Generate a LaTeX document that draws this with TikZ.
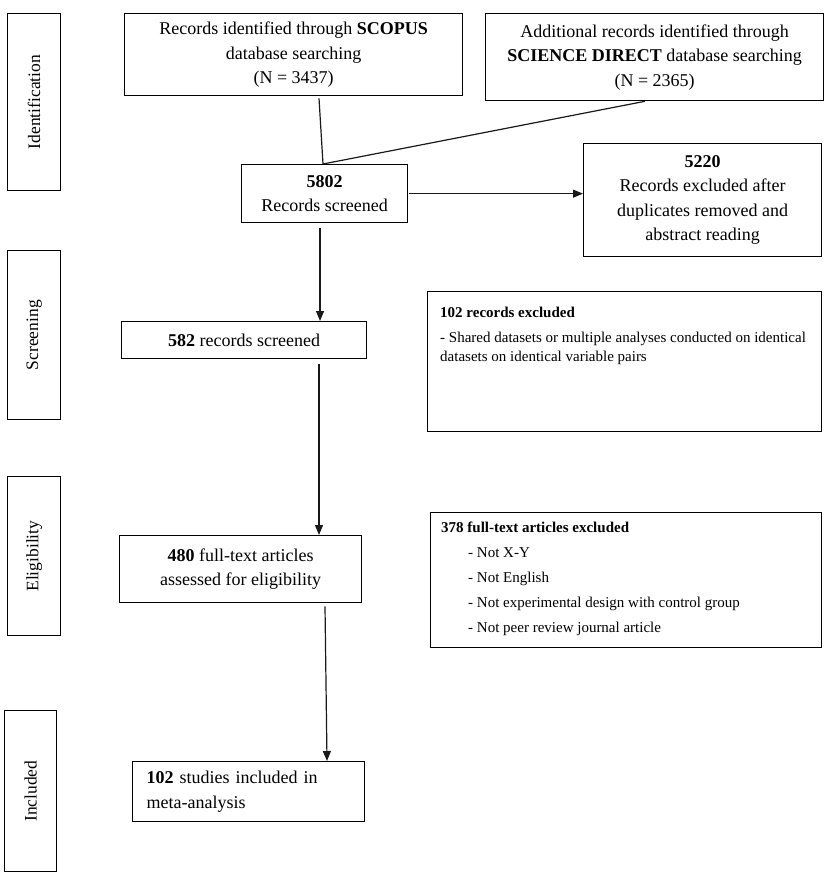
\documentclass[tikz,border=0pt]{standalone}
\usepackage{fontspec}
\setmainfont{Liberation Serif}
\usetikzlibrary{arrows.meta,calc}
\begin{document}
\begin{tikzpicture}[x=1pt,y=-1pt,
  box/.style={draw=black,line width=1.3pt,inner sep=0pt,anchor=north west,align=center,font=\fontsize{18}{24.5}\selectfont},
  side/.style={rotate=90,inner sep=0pt,font=\fontsize{17.5}{21}\selectfont},
  small/.style={inner sep=0pt,anchor=north west,align=left,font=\fontsize{15}{18.5}\selectfont},
  conn/.style={line width=1.2pt,draw=black!90},
  arr/.style={conn,-{Triangle[length=10pt,width=8pt]}}]
\useasboundingbox (0,0) rectangle (829,877);
% phase boxes
\node[box,minimum width=53pt,minimum height=177pt] (idbox) at (7,13) {};
\node[box,minimum width=53pt,minimum height=169pt] (scbox) at (7,250) {};
\node[box,minimum width=53pt,minimum height=159pt] (elbox) at (7,476) {};
\node[box,minimum width=52pt,minimum height=161pt] (inbox) at (4,710) {};
\node[side] (idlab) at (idbox.center) {Identification};
\node[side] (sclab) at (scbox.center) {Screening};
\node[side] (ellab) at (elbox.center) {Eligibility};
\node[side] (inlab) at (inbox.center) {Included};
% main boxes
\node[box,minimum width=338pt,minimum height=82pt] (scopus) at (124,13)
  {Records identified through \textbf{SCOPUS}\\database searching\\(N = 3437)};
\node[box,minimum width=338pt,minimum height=87pt] (sd) at (485,13)
  {Additional records identified through\\\textbf{SCIENCE DIRECT} database searching\\(N = 2365)};
\node[box,minimum width=166pt,minimum height=58pt] (n5802) at (241,164)
  {\textbf{5802}\\Records screened};
\node[box,minimum width=238pt,minimum height=113pt] (n5220) at (583,143)
  {\textbf{5220}\\Records excluded after\\duplicates removed and\\abstract reading};
\node[box,minimum width=245pt,minimum height=37pt] (n582) at (121,321)
  {\textbf{582} records screened};
\node[box,minimum width=394pt,minimum height=140pt] (ex102) at (427,291) {};
\node[small] (ex102t) at (440,307)
  {\textbf{102 records excluded}\\[6.5pt]
   - Shared datasets or multiple analyses conducted on identical\\
   datasets on identical variable pairs};
\node[box,minimum width=242pt,minimum height=67pt] (n480) at (119,535)
  {\textbf{480} full-text articles\\assessed for eligibility};
\node[box,minimum width=391pt,minimum height=135pt] (ex378) at (430,512) {};
\node[small,font=\fontsize{15}{25}\selectfont] (ex378t) at (441,522)
  {\textbf{378 full-text articles excluded}\\
   \hspace*{27pt}- Not X-Y\\
   \hspace*{27pt}- Not English\\
   \hspace*{27pt}- Not experimental design with control group\\
   \hspace*{27pt}- Not peer review journal article};
\node[box,minimum width=232pt,minimum height=60pt,align=left,text width=204pt] (n102) at (132,761)
  {\textbf{102} studies included in\\meta-analysis};
% connectors
\draw[conn] ($(scopus.south west)+(195,2)$) -- ($(n5802.north west)+(82,0)$);
\draw[conn] ($(sd.south west)+(160,0)$) -- ($(n5802.north west)+(82,0)$);
\draw[arr] ($(n5802.east)+(1,0)$) -- (n5802.east -| n5220.west);
\draw[arr] ($(n5802.south west)+(79,5)$) -- ($(n582.north west)+(199,0)$);
\draw[arr] ($(n582.south west)+(198,5)$) -- ($(n480.north west)+(200,0)$);
\draw[arr] ($(n480.south west)+(206,3)$) -- ($(n102.north west)+(195,0)$);
\end{tikzpicture}
\end{document}
